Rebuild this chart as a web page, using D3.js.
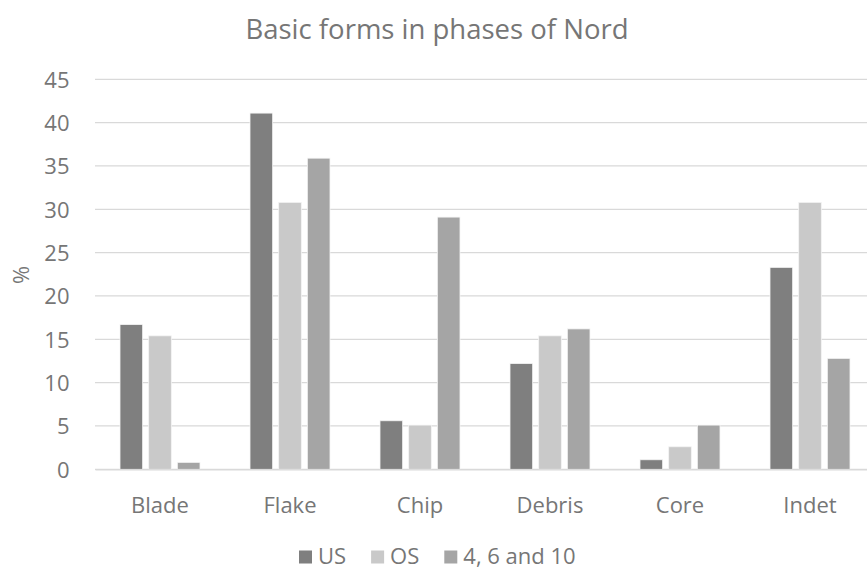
<!DOCTYPE html>
<html>
<head>
<meta charset="utf-8">
<script src="https://cdn.jsdelivr.net/npm/d3@7"></script>
<style>
  html, body { margin: 0; padding: 0; background: #fff; }
  svg { display: block; font-family: "Open Sans", "Noto Sans", sans-serif; }
</style>
</head>
<body>
<svg id="chart" width="867" height="570"></svg>
<script>
// Share of basic forms (%) per phase
const categories = ["Blade", "Flake", "Chip", "Debris", "Core", "Indet"];
const seriesNames = ["US", "OS", "4, 6 and 10"];
const usValues = [16.7, 41.1, 5.6, 12.2, 1.1, 23.3];
const osValues = [15.4, 30.8, 5.1, 15.4, 2.6, 30.8];
const phase4610Values = [0.8, 35.9, 29.1, 16.2, 5.1, 12.8];
const yTicks = [0, 5, 10, 15, 20, 25, 30, 35, 40, 45];
const colors = ["#7f7f7f", "#c9c9c9", "#a5a5a5"];

const seriesValues = [usValues, osValues, phase4610Values];
const rows = categories.map((c, i) => ({
  category: c,
  values: seriesNames.map((s, j) => ({ series: s, value: seriesValues[j][i], color: colors[j] }))
}));

const textColor = "#767676";
const svg = d3.select("#chart");

const plot = { left: 95, right: 875, top: 79.3, bottom: 469.3 };

const x0 = d3.scaleBand().domain(categories).range([plot.left, plot.right]).padding(0);
const x1 = d3.scaleBand().domain(seriesNames).range([25, 105]).paddingInner(0.21).paddingOuter(0);
const y = d3.scaleLinear().domain([0, 45]).range([plot.bottom, plot.top]);

// Title
svg.append("text")
  .attr("x", 437).attr("y", 39)
  .attr("text-anchor", "middle")
  .attr("font-size", 27.5)
  .attr("fill", textColor)
  .text("Basic forms in phases of Nord");

// Horizontal gridlines
svg.append("g")
  .selectAll("line")
  .data(yTicks)
  .join("line")
  .attr("x1", plot.left).attr("x2", plot.right)
  .attr("y1", d => y(d)).attr("y2", d => y(d))
  .attr("stroke", "#d9d9d9")
  .attr("stroke-width", 1.3);

// Y axis labels
const yAxis = d3.axisLeft(y).tickValues(yTicks).tickSize(0).tickPadding(0);
const yg = svg.append("g").attr("transform", `translate(69.5,0)`).call(yAxis);
yg.select(".domain").remove();
yg.selectAll("text")
  .attr("font-size", 22)
  .attr("font-family", "Open Sans, Noto Sans, sans-serif")
  .attr("fill", textColor)
  .attr("dy", "0.36em");

// Y axis title
svg.append("text")
  .attr("transform", "translate(28.5,275) rotate(-90)")
  .attr("text-anchor", "middle")
  .attr("font-size", 22)
  .attr("fill", textColor)
  .text("%");

// Bars
const groups = svg.append("g")
  .selectAll("g")
  .data(rows)
  .join("g")
  .attr("transform", d => `translate(${x0(d.category)},0)`);

groups.selectAll("rect")
  .data(d => d.values)
  .join("rect")
  .attr("x", d => x1(d.series))
  .attr("width", x1.bandwidth())
  .attr("y", d => y(d.value))
  .attr("height", d => y(0) - y(d.value))
  .attr("fill", d => d.color)
  .attr("stroke", "#f4f4f4")
  .attr("stroke-width", 0.8);

// Category axis
const xAxis = d3.axisBottom(x0).tickSize(0).tickPadding(0);
const xg = svg.append("g").attr("transform", `translate(0,${plot.bottom})`).call(xAxis);
xg.select(".domain").attr("stroke", "#d9d9d9").attr("stroke-width", 1.3);
xg.selectAll("text")
  .attr("font-size", 22)
  .attr("font-family", "Open Sans, Noto Sans, sans-serif")
  .attr("fill", textColor)
  .attr("dy", null)
  .attr("y", 44);

// Legend
const legend = svg.append("g");
let lx = 299;
seriesNames.forEach((name, i) => {
  legend.append("rect")
    .attr("x", lx).attr("y", 550.5)
    .attr("width", 13).attr("height", 13)
    .attr("fill", colors[i]);
  const t = legend.append("text")
    .attr("x", lx + 19).attr("y", 563.5)
    .attr("font-size", 22)
    .attr("fill", textColor)
    .text(name);
  lx += 19 + t.node().getComputedTextLength() + 25;
});
</script>
</body>
</html>
